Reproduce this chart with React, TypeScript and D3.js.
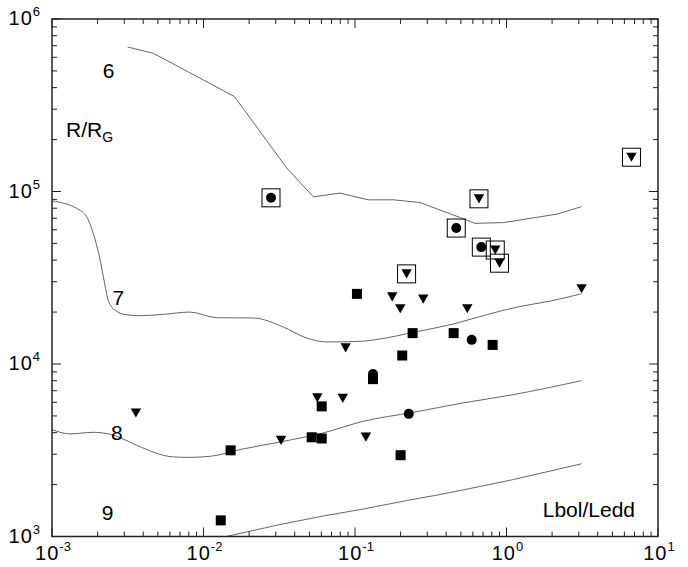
import React from 'react';
import * as d3 from 'd3';

const W = 688;
const H = 567;
const FONT = 'Arial, "Liberation Sans", Helvetica, sans-serif';

// Curves: Lbol/Ledd vs R/RG for log M = 6, 7, 8, 9
const curve6: [number, number][] = [
  [0.00316, 688000], [0.00466, 633000], [0.016, 355000], [0.0354, 137000], [0.0531, 93100],
  [0.0796, 97900], [0.122, 89500], [0.179, 89500], [0.2685, 86300], [0.493, 70700],
  [0.619, 65400], [0.953, 66000], [2.145, 73900], [3.13, 81700],
];
const curve7: [number, number][] = [
  [0.001, 88300], [0.00153, 77800], [0.00171, 70400], [0.001865, 57600], [0.002058, 41800],
  [0.002221, 29600], [0.002324, 24200], [0.00244, 21800], [0.002645, 20400], [0.00281, 19700],
  [0.00327, 19200], [0.00381, 19050], [0.00543, 19400], [0.00815, 20000], [0.01222, 18550],
  [0.0213, 18480], [0.0336, 16390], [0.0468, 14270], [0.065, 13420], [0.1079, 13530],
  [0.1462, 13960], [0.2425, 15250], [0.4455, 17060], [0.74, 19310], [1.178, 21400],
  [1.957, 23190], [3.13, 25550],
];
const curve8: [number, number][] = [
  [0.001, 4166], [0.001315, 3933], [0.001874, 4018], [0.002478, 3897], [0.00281, 3745],
  [0.003623, 3379], [0.006322, 2894], [0.00815, 2875], [0.01138, 2926], [0.01741, 3191],
  [0.033, 3549], [0.06178, 3986], [0.1134, 4654], [0.2425, 5247], [0.5187, 5948],
  [1.109, 6644], [3.13, 8008],
];
const curve9: [number, number][] = [
  [0.0141, 1000], [0.032, 1173], [0.0618, 1315], [0.1134, 1443], [0.2195, 1616],
  [0.364, 1751], [0.574, 1897], [1.109, 2139], [1.937, 2395], [3.13, 2641],
];

// Curve labels (mass) anchored in data space
const curveLabels: [string, number, number][] = [
  ['6', 0.00216, 455000],
  ['7', 0.00251, 22100],
  ['8', 0.00245, 3647],
  ['9', 0.00213, 1254],
];

// Data points
const squares: [number, number][] = [
  [0.103, 25500], [0.24, 15100], [0.448, 15100], [0.81, 12900], [0.205, 11200],
  [0.1315, 8170], [0.0603, 5680], [0.0518, 3760], [0.0603, 3700], [0.2, 2960],
  [0.0151, 3160], [0.013, 1240],
];
const circles: [number, number][] = [
  [0.589, 13800], [0.1315, 8740], [0.2265, 5140],
];
const triangles: [number, number][] = [
  [3.13, 27300], [0.176, 24500], [0.282, 23800], [0.199, 20900], [0.551, 20900],
  [0.0868, 12400], [0.0564, 6360], [0.083, 6320], [0.00358, 5200], [0.0325, 3610],
  [0.118, 3770],
];
const boxedCircles: [number, number][] = [
  [0.0279, 91900], [0.466, 61400], [0.682, 47600],
];
const boxedTriangles: [number, number][] = [
  [0.658, 90700], [0.843, 45800], [0.899, 38400], [0.219, 33300], [6.68, 158000],
];

const xMajor = [-3, -2, -1, 0, 1];
const yMajor = [3, 4, 5, 6];

export default function App() {
  const left = 52, right = 658, top = 19, bottom = 536.5;
  const x = d3.scaleLog().domain([1e-3, 10]).range([left, right]);
  const y = d3.scaleLog().domain([1e3, 1e6]).range([bottom, top]);

  const lineLin = d3.line<[number, number]>().x(d => x(d[0])).y(d => y(d[1]));
  const lineSmooth = d3
    .line<[number, number]>()
    .x(d => x(d[0]))
    .y(d => y(d[1]))
    .curve(d3.curveMonotoneX);

  const isMajor = (v: number) => Math.abs(Math.log10(v) - Math.round(Math.log10(v))) < 1e-9;
  const xTicks = x.ticks();
  const yTicks = y.ticks();
  const MAJ = 9, MIN = 5;

  const tri = (cx: number, cy: number) =>
    `M${cx - 5.2},${cy - 4.6}L${cx + 5.2},${cy - 4.6}L${cx},${cy + 4.6}Z`;

  const axisColor = '#222';

  return (
    <svg
      width={W}
      height={H}
      style={{ position: 'absolute', left: 0, top: 0, background: '#fff' }}
      fontFamily={FONT}
    >
      <rect x={0} y={0} width={W} height={H} fill="#fff" />

      {/* curves */}
      <g fill="none" stroke="#666" strokeWidth={1}>
        <path d={lineLin(curve6) || ''} />
        <path d={lineSmooth(curve7) || ''} />
        <path d={lineSmooth(curve8) || ''} />
        <path d={lineLin(curve9) || ''} />
      </g>

      {/* ticks */}
      <g stroke={axisColor} strokeWidth={1}>
        {xTicks.map((t, i) => {
          const len = isMajor(t) ? MAJ : MIN;
          const px = x(t);
          return (
            <g key={'xt' + i}>
              <line x1={px} x2={px} y1={bottom} y2={bottom - len} />
              <line x1={px} x2={px} y1={top} y2={top + len} />
            </g>
          );
        })}
        {yTicks.map((t, i) => {
          const len = isMajor(t) ? MAJ : MIN;
          const py = y(t);
          return (
            <g key={'yt' + i}>
              <line x1={left} x2={left + len} y1={py} y2={py} />
              <line x1={right} x2={right - len} y1={py} y2={py} />
            </g>
          );
        })}
      </g>

      {/* frame */}
      <rect
        x={left}
        y={top}
        width={right - left}
        height={bottom - top}
        fill="none"
        stroke={axisColor}
        strokeWidth={1.5}
      />

      {/* tick labels */}
      <g fill="#000">
        {xMajor.map(e => (
          <text key={'xl' + e} x={x(Math.pow(10, e)) + 1} y={560} textAnchor="middle" fontSize={20}>
            <tspan letterSpacing={1}>10</tspan>
            <tspan dy={-9} fontSize={13}>{String(e)}</tspan>
          </text>
        ))}
        {yMajor.map(e => (
          <text key={'yl' + e} x={40} y={y(Math.pow(10, e)) + 6} textAnchor="end" fontSize={20}>
            <tspan letterSpacing={1}>10</tspan>
            <tspan dy={-9} fontSize={13}>{String(e)}</tspan>
          </text>
        ))}
      </g>

      {/* curve labels */}
      <g fill="#000" fontSize={21}>
        {curveLabels.map(([s, lx, ly]) => (
          <text key={'cl' + s} x={x(lx)} y={y(ly)}>
            {s}
          </text>
        ))}
      </g>

      {/* axis titles */}
      <text x={66} y={137} fontSize={21} fill="#000">
        R/R
        <tspan dy={5} fontSize={14}>G</tspan>
      </text>
      <text x={right - 23} y={bottom - 19.5} fontSize={21} textAnchor="end" fill="#000">
        Lbol/Ledd
      </text>

      {/* markers */}
      <g fill="#000">
        {squares.map((d, i) => (
          <rect key={'s' + i} x={x(d[0]) - 5} y={y(d[1]) - 5} width={10} height={10} />
        ))}
        {circles.map((d, i) => (
          <circle key={'c' + i} cx={x(d[0])} cy={y(d[1])} r={5} />
        ))}
        {triangles.map((d, i) => (
          <path key={'t' + i} d={tri(x(d[0]), y(d[1]))} />
        ))}
        {boxedCircles.map((d, i) => (
          <g key={'bc' + i}>
            <rect
              x={x(d[0]) - 9}
              y={y(d[1]) - 9}
              width={18}
              height={18}
              fill="none"
              stroke="#000"
              strokeWidth={1}
            />
            <circle cx={x(d[0])} cy={y(d[1])} r={5} />
          </g>
        ))}
        {boxedTriangles.map((d, i) => (
          <g key={'bt' + i}>
            <rect
              x={x(d[0]) - 9}
              y={y(d[1]) - 9}
              width={18}
              height={18}
              fill="none"
              stroke="#000"
              strokeWidth={1}
            />
            <path d={tri(x(d[0]), y(d[1]))} />
          </g>
        ))}
      </g>
    </svg>
  );
}
